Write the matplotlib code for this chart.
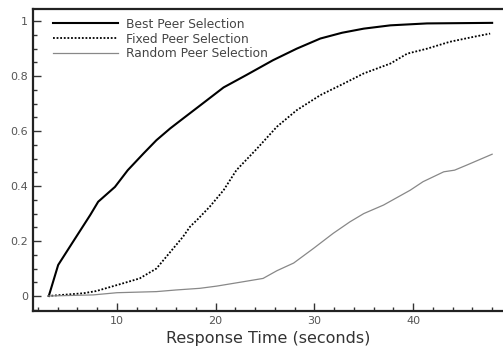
import matplotlib
matplotlib.use('Agg')
import matplotlib.pyplot as plt
from matplotlib.ticker import MultipleLocator

# values (response time in seconds, fraction)
best_x = [3.1, 4.05, 5.6, 7.3, 8.1, 9.8, 11.1, 12.7, 14.0, 15.4, 16.7, 18.3, 20.8,
          23.1, 25.8, 28.2, 30.6, 32.8, 35.0, 37.7, 41.4, 48.0]
best_y = [0.0, 0.113, 0.20, 0.295, 0.343, 0.397, 0.458, 0.519, 0.567, 0.61, 0.646,
          0.69, 0.759, 0.804, 0.858, 0.90, 0.937, 0.958, 0.973, 0.985, 0.992, 0.994]

fixed_x = [3.0, 6.6, 7.9, 10.6, 12.3, 14.0, 15.4, 16.7, 17.4, 18.2, 19.4, 20.8,
           22.1, 24.2, 26.2, 28.2, 30.6, 32.8, 35.0, 37.7, 39.4, 41.4, 43.7, 46.1, 47.8]
fixed_y = [0.0, 0.01, 0.018, 0.046, 0.064, 0.10, 0.16, 0.216, 0.252, 0.28, 0.325, 0.385,
           0.458, 0.537, 0.616, 0.676, 0.731, 0.77, 0.81, 0.846, 0.882, 0.90, 0.925, 0.943, 0.955]

random_x = [3.0, 7.6, 10.0, 14.0, 16.0, 18.4, 20.1, 22.8, 24.8, 26.2, 27.9, 29.9,
            31.9, 33.6, 35.0, 37.0, 39.7, 41.0, 43.1, 44.2, 45.4, 48.0]
random_y = [0.0, 0.004, 0.012, 0.016, 0.022, 0.028, 0.036, 0.052, 0.064, 0.092, 0.12, 0.173,
            0.228, 0.27, 0.30, 0.331, 0.385, 0.416, 0.452, 0.458, 0.476, 0.516]

labels = ['Best Peer Selection', 'Fixed Peer Selection', 'Random Peer Selection']

fig = plt.figure(figsize=(5.03, 3.51), dpi=100)
ax = fig.add_axes([0.0656, 0.114, 0.9344, 0.86])

ax.plot(best_x, best_y, color='black', linewidth=1.5, label=labels[0])
ax.plot(fixed_x, fixed_y, color='black', linewidth=1.3, linestyle=(0, (1, 1)), label=labels[1])
ax.plot(random_x, random_y, color='#888888', linewidth=0.9, label=labels[2])

ax.set_xlim(1.5, 49.1)
ax.set_ylim(-0.0545, 1.044)
ax.xaxis.set_major_locator(MultipleLocator(10))
ax.xaxis.set_minor_locator(MultipleLocator(2))
ax.yaxis.set_minor_locator(MultipleLocator(0.05))
ax.set_yticks([0, 0.2, 0.4, 0.6, 0.8, 1.0])
ax.set_yticklabels(['0', '0.2', '0.4', '0.6', '0.8', '1'])

ax.tick_params(which='both', direction='in', colors='#333333', labelcolor='#555555', labelsize=8, width=1.0)
ax.tick_params(which='major', length=6)
ax.tick_params(which='minor', length=3)
ax.spines['right'].set_visible(False)
for s in ['left', 'bottom', 'top']:
    ax.spines[s].set_linewidth(1.6)
    ax.spines[s].set_color('#222222')

ax.set_xlabel('Response Time (seconds)', fontsize=11.5, color='#333333', labelpad=4)

leg = ax.legend(loc='upper left', bbox_to_anchor=(0.025, 1.0), frameon=False, fontsize=8.8,
                handlelength=5.3, handletextpad=0.65, labelspacing=0.15, borderpad=0.2)
for t in leg.get_texts():
    t.set_color('#444444')

fig.savefig('out.png', dpi=100)
